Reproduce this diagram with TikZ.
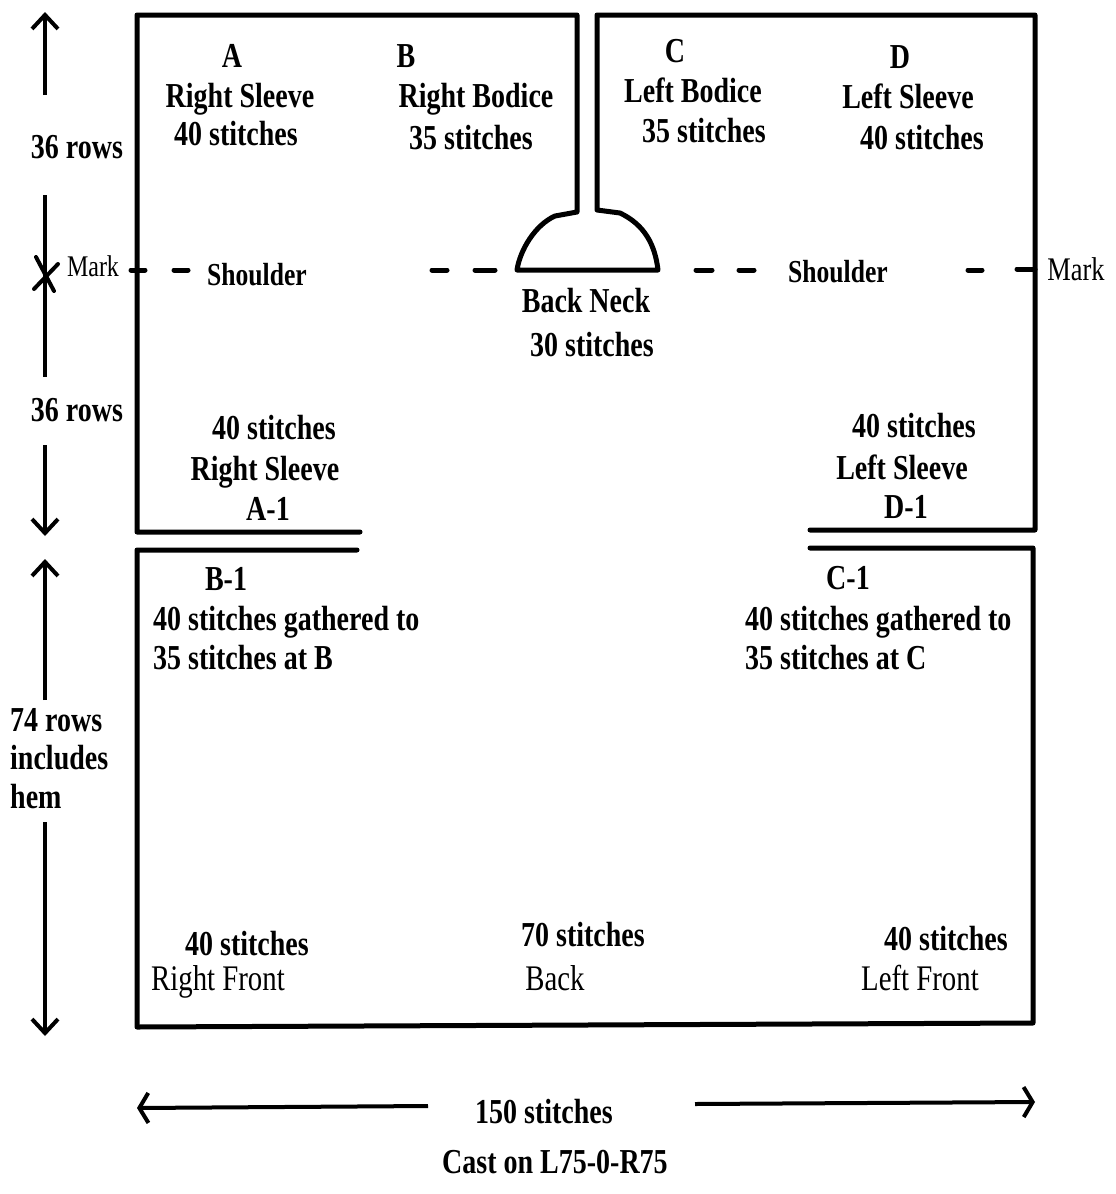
\documentclass[tikz,border=0pt]{standalone}
\usepackage{fontspec}
\setmainfont{Liberation Serif}[FakeStretch=0.8]
\usetikzlibrary{arrows.meta}
\tikzset{
  edge/.style={line width=5pt, line cap=round, line join=round},
  dashmark/.style={line width=5pt, line cap=round},
  dimarrow/.style={line width=4pt, -{Straight Barb[length=14pt,width=26pt,line width=4pt]}},
  dimline/.style={line width=4pt},
  widearrow/.style={line width=4pt, -{Straight Barb[length=9pt,width=30pt,line width=4pt]}},
  lbl/.style={font=\bfseries\fontsize{35}{39}\selectfont, inner sep=0pt, anchor=base},
  lbll/.style={lbl, anchor=base west},
  rlbl/.style={font=\fontsize{36}{40}\selectfont, inner sep=0pt, anchor=base},
  smlbl/.style={font=\bfseries\fontsize{32}{36}\selectfont, inner sep=0pt, anchor=base},
}
\begin{document}
\begin{tikzpicture}[x=1pt,y=-1pt]
\useasboundingbox (0,0) rectangle (1116,1194);
\fill[white] (0,0) rectangle (1116,1194);

% upper piece
\draw[edge] (360,532) -- (137,532) -- (137,15) -- (577,15) -- (577,212) -- (555,216)
  .. controls (535,225) and (520,250) .. (517,270) -- (658,270)
  .. controls (655,245) and (645,225) .. (620,213) -- (597,210) -- (597,15) -- (1035,15) -- (1035,530) -- (810,530);

% lower piece
\draw[edge] (357,550) -- (137,550) -- (137,1027) -- (1033,1023) -- (1033,548) -- (810,548);

% shoulder dashes
\draw[dashmark] (131,270) -- (145,270);
\draw[dashmark] (174,270) -- (188,270);
\draw[dashmark] (432,270) -- (447,270);
\draw[dashmark] (475,270) -- (495,270);
\draw[dashmark] (696,270) -- (712,270);
\draw[dashmark] (739,270) -- (754,270);
\draw[dashmark] (968,270) -- (982,270);
\draw[dashmark] (1017,269) -- (1035,269);

% left dimension arrows
\coordinate (u1s) at (45,95);  \coordinate (u1e) at (45,12);
\coordinate (m1s) at (45,195); \coordinate (m1e) at (45,377);
\coordinate (d1s) at (45,445); \coordinate (d1e) at (45,536);
\coordinate (u2s) at (45,700); \coordinate (u2e) at (45,559);
\coordinate (d2s) at (45,822); \coordinate (d2e) at (45,1036);
\draw[dimarrow] (u1s) -- (u1e);
\draw[dimline] (m1s) -- (m1e);
\draw[dimline, line cap=round] (36,257) -- (54,291);
\draw[dimline, line cap=round] (34,289) -- (58,264);
\draw[dimarrow] (d1s) -- (d1e);
\draw[dimarrow] (u2s) -- (u2e);
\draw[dimarrow] (d2s) -- (d2e);

% bottom arrows
\coordinate (bl1) at (428,1106); \coordinate (bl2) at (137,1108);
\coordinate (br1) at (695,1104); \coordinate (br2) at (1035,1102);
\draw[widearrow] (bl1) -- (bl2);
\draw[widearrow] (br1) -- (br2);

% upper labels
\node[lbl] (tA) at (232,67) {A};
\node[lbl] (tRS) at (240,107) {Right Sleeve};
\node[lbl] (tA40) at (236,145) {40 stitches};
\node[lbl] (tB) at (406,67) {B};
\node[lbl] (tRB) at (476,107) {Right Bodice};
\node[lbl] (tB35) at (471,149) {35 stitches};
\node[lbl] (tC) at (675,62) {C};
\node[lbl] (tLB) at (693,102) {Left Bodice};
\node[lbl] (tC35) at (704,142) {35 stitches};
\node[lbl] (tD) at (900,68) {D};
\node[lbl] (tLS) at (908,108) {Left Sleeve};
\node[lbl] (tD40) at (922,149) {40 stitches};

\node[smlbl] (sh1) at (257,285) {Shoulder};
\node[smlbl] (sh2) at (838,282) {Shoulder};
\node[rlbl, font=\fontsize{30}{34}\selectfont] (mk1) at (93,276) {Mark};
\node[rlbl, font=\fontsize{33}{36}\selectfont] (mk2) at (1076,280) {Mark};
\node[lbl] (bn) at (586,312) {Back Neck};
\node[lbl] (bn30) at (592,356) {30 stitches};

\node[lbl] (r36a) at (77,158) {36 rows};
\node[lbl] (r36b) at (77,421) {36 rows};

\node[lbl] (a140) at (274,439) {40 stitches};
\node[lbl] (a1rs) at (265,480) {Right Sleeve};
\node[lbl] (a1) at (268,520) {A-1};
\node[lbl] (d140) at (914,437) {40 stitches};
\node[lbl] (d1ls) at (902,479) {Left Sleeve};
\node[lbl] (d1) at (906,518) {D-1};

% lower labels
\node[lbl] (b1) at (226,590) {B-1};
\node[lbll] (b1g) at (153,630) {40 stitches gathered to};
\node[lbll] (b1b) at (153,669) {35 stitches at B};
\node[lbl] (c1) at (848,589) {C-1};
\node[lbll] (c1g) at (745,630) {40 stitches gathered to};
\node[lbll] (c1c) at (745,669) {35 stitches at C};

\node[lbll] (r74) at (10,731) {74 rows};
\node[lbll] (inc) at (10,769) {includes};
\node[lbll] (hem) at (10,808) {hem};

\node[lbl] (rf40) at (247,955) {40 stitches};
\node[rlbl] (rf) at (218,990) {Right Front};
\node[lbl] (bk70) at (583,946) {70 stitches};
\node[rlbl] (bk) at (555,990) {Back};
\node[lbl] (lf40) at (946,950) {40 stitches};
\node[rlbl] (lf) at (920,990) {Left Front};

\node[lbl] (s150) at (544,1123) {150 stitches};
\node[lbl] (cast) at (555,1173) {Cast on L75-0-R75};
\end{tikzpicture}
\end{document}
